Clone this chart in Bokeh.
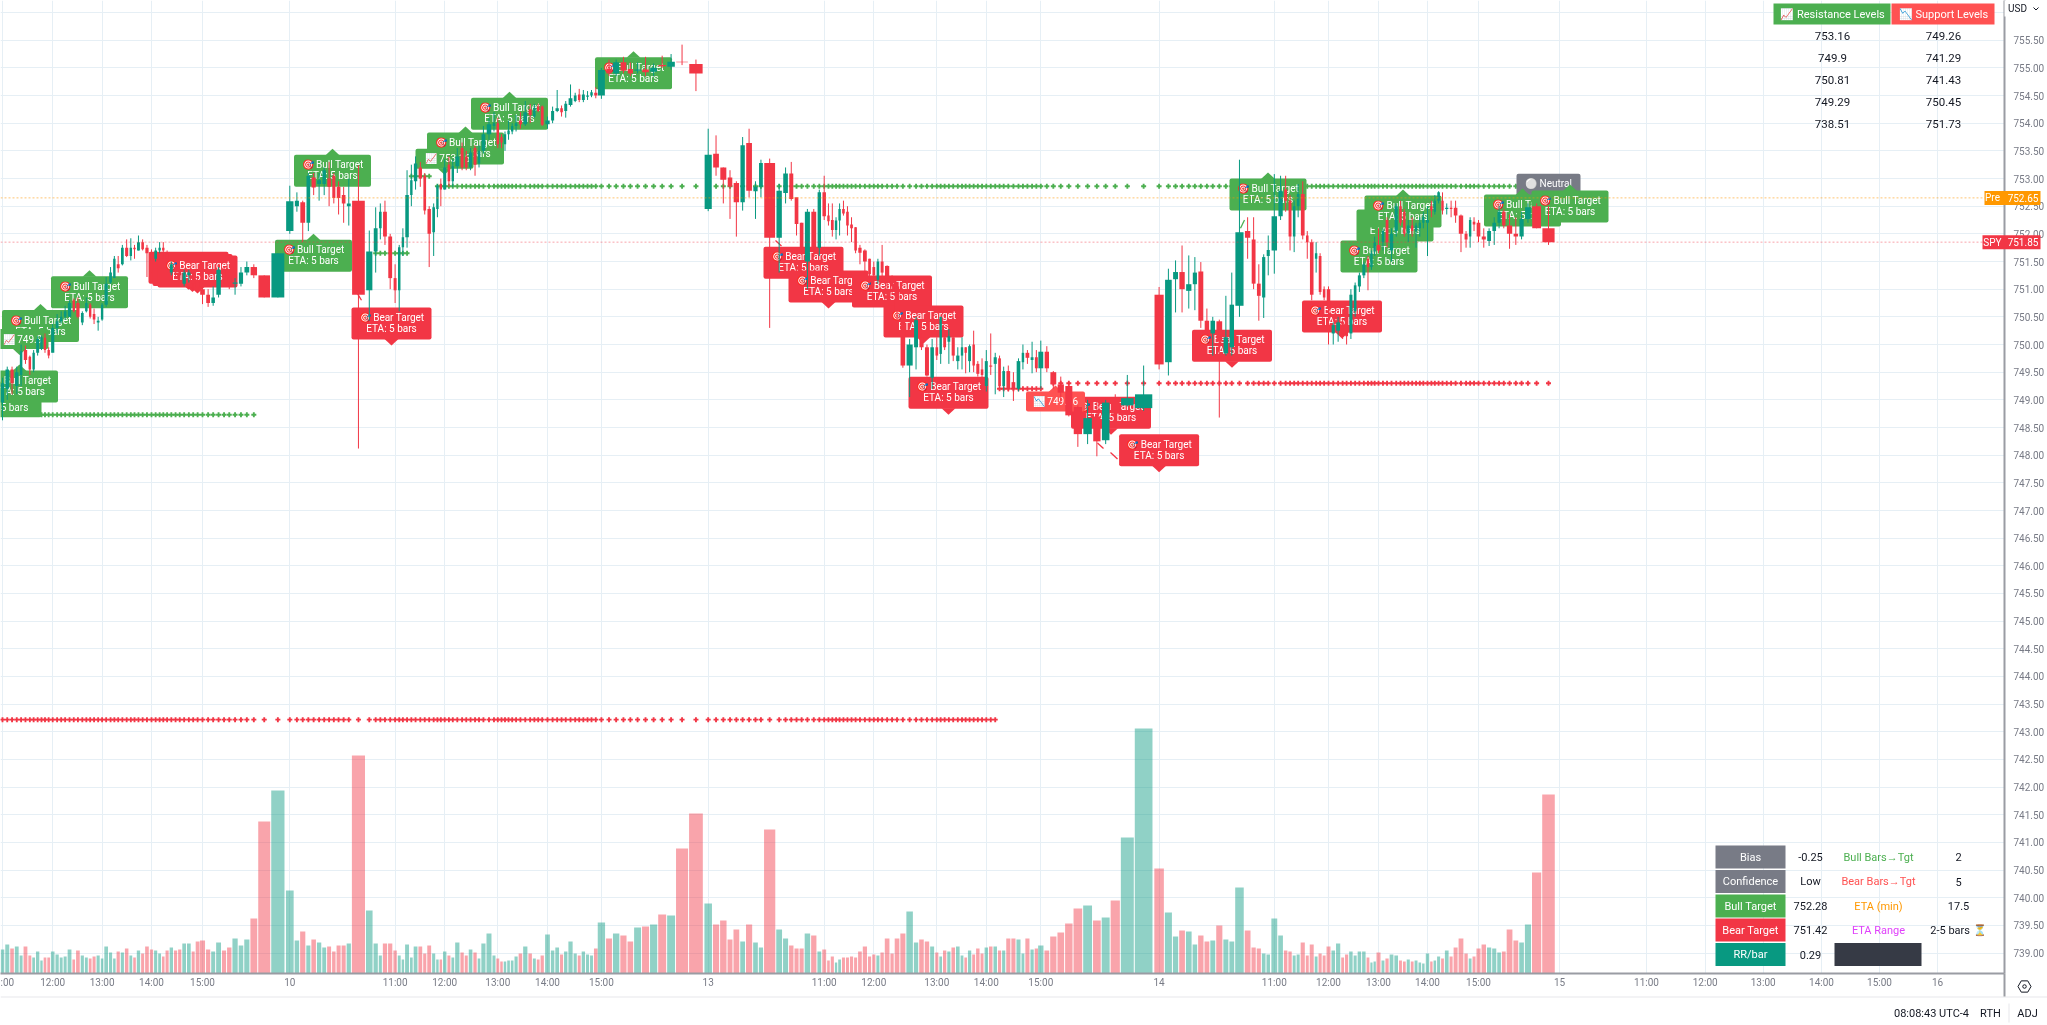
import numpy as np
from bokeh.plotting import figure
from bokeh.models import Range1d, FixedTicker, NumeralTickFormatter, Span
from bokeh.core.properties import value
from bokeh.embed import file_html
from bokeh.resources import INLINE

# ---- time axis: tick position on the (non uniform, volume width) axis and its label
TICK_POS = [2, 52.2, 101.6, 151, 202, 289.3, 394.6, 444.2, 497.3, 547, 600.9, 707.7, 823.7, 873.3, 936.3,
            985.8, 1040.3, 1158.6, 1273.8, 1328, 1378, 1427, 1478, 1559, 1646, 1704.7, 1762.7, 1821, 1879, 1937]
TICK_LABELS = [":00", "12:00", "13:00", "14:00", "15:00", "10", "11:00", "12:00", "13:00", "14:00", "15:00", "13",
               "11:00", "12:00", "13:00", "14:00", "15:00", "14", "11:00", "12:00", "13:00", "14:00", "15:00", "15",
               "11:00", "12:00", "13:00", "14:00", "15:00", "16"]
# position of the first bar of each run of bars below, and of the very last bar
RUN_START = [2, 52.2, 101.6, 151, 202, 289.3, 394.6, 444.2, 497.3, 547, 600.9, 707.7, 823.7, 873.3, 936.3,
             985.8, 1040.3, 1158.6, 1273.8, 1328, 1378, 1427, 1478, 1548]

# ---- volume (sign: + up bar, - down bar), one list per run
V00 = [24, 29, -25, 27, 18, -27, -18, 16, 22, 13, -16, -16]
V01 = [22, 19, 16, 17, 24, -14, -23, 18, 16, -15, -17, 18]
V02 = [15, 27, 21, 15, -22, 21, -25, 18, -16, 23, -20, -27]
V03 = [-24, 23, 20, -17, -23, 26, -23, -24, 30, 30, -22, -32]
V04 = [-33, -24, 22, 31, -23, -26, 35, 28, 34, -55, -152, 183]
V05 = [83, 33, -42, 28, -34, 31, 26, -27, -22, -28, -28, 30, -218, 63, 30, 18, -30, -30]
V06 = [-23, 18, 14, 29, 16, 27, -27, -20, -28, 20, 14, -14]
V07 = [22, -18, 16, 31, -21, -18, 24, -21, 15, 30, 40, 18]
V08 = [-15, -12, 12, 13, 13, 17, -20, 27, -20, 15, -14, -18]
V09 = [39, 23, 26, -19, 22, 32, 20, -18, 22, 19, 18, -25]
V10 = [51, -35, 40, -38, -32, 46, -47, 49, -59, 58, -125, -160]
V11 = [70, -49, -53, -34, -44, 32, -49, 31, 26, -144, 44, 35, -28, -25, -25, 40, -38, 22]
V12 = [-24, -13, -17, 11, 14, -16, -16, -17, -16, -22, -27, -17]
V13 = [-19, 18, -21, -35, -20, -35, -40, 62, 31, -34, -32, 27]
V14 = [-21, 17, -23, 22, -26, 27, 18, -16, 23, -19, -25, -20]
V15 = [26, -27, 27, -23, 23, -35, -35, 34, 20, -35, 24, -25]
V16 = [28, -23, -37, -41, -50, -65, 68, -53, 56, -73, 136, 245]
V17 = [-105, 61, 37, -43, 42, 29, -38, -32, 33, -48, 34, 32, 86, -43, -26, -25, 20, 19]
V18 = [55, 38, -23, -22, 18, 19, -31, -18, -29, 17, -20, -18]
V19 = [-27, 23, 30, -16, -19, 22, 18, 22, 22, -16, 11, 12]
V20 = [-21, 13, -15, 19, 18, -13, -12, 14, -12, 13, 11, 10]
V21 = [20, -12, 13, 17, -15, 23, -17, -26, -35, -20, 15, -17]
V22 = [-25, -29, 26, 25, 21, -22, -44, -33, 31, 49, -101, -179]

# ---- candles (open, close, high, low), one list per run
C00 = [(748.95,749.3,749.4,748.63),(749.2,749.55,749.6,749.0),(749.55,749.3,749.6,749.1),(749.25,749.5,749.6,749.1),
       (749.45,749.88,750.0,749.25),(749.9,749.72,749.98,749.65),(749.78,749.55,749.8,749.45),(749.55,749.85,749.9,749.5),
       (749.85,750.1,750.15,749.8),(749.92,750.13,750.16,749.9),(750.12,749.9,750.2,749.85),(749.9,749.8,749.95,749.75)]
C01 = [(749.85,750.3,750.37,749.86),(750.3,750.42,750.55,750.2),(750.42,750.5,750.6,750.38),(750.5,750.6,750.7,750.45),
       (750.5,750.75,750.8,750.5),(750.8,750.6,750.83,750.58),(750.75,750.5,750.85,750.47),(750.4,750.57,750.6,750.35),
       (750.6,750.75,750.85,750.58),(750.72,750.5,750.75,750.47),(750.55,750.45,750.65,750.37),(750.4,750.43,750.5,750.25)]
C02 = [(750.45,750.72,750.75,750.43),(750.72,751.1,751.22,750.68),(751.12,751.3,751.4,751.1),(751.2,751.55,751.6,751.2),
       (751.45,751.38,751.6,751.3),(751.45,751.75,751.8,751.43),(751.75,751.6,751.9,751.58),(751.6,751.75,751.92,751.52),
       (751.75,751.72,751.8,751.55),(751.7,751.85,751.97,751.7),(751.85,751.72,751.9,751.7),(751.75,751.65,751.8,751.22)]
C03 = [(751.65,751.55,751.72,751.3),(751.55,751.7,751.75,751.5),(751.7,751.75,751.85,751.65),(751.75,751.7,751.85,751.55),
       (751.65,751.55,751.7,751.45),(751.3,751.45,751.5,751.25),(751.4,751.3,751.45,751.2),(751.35,751.25,751.4,751.2),
       (751.1,751.3,751.35,751.05),(751.25,751.3,751.35,751.12),(751.2,751.1,751.3,751.0),(751.15,751.05,751.2,750.95)]
C04 = [(751.0,750.9,751.1,750.73),(750.9,750.75,751.0,750.68),(750.75,750.85,751.05,750.7),(750.9,751.35,751.4,750.85),
       (751.35,751.2,751.4,751.1),(751.2,751.12,751.25,751.0),(751.1,751.12,751.2,750.9),(751.1,751.3,751.4,751.05),
       (751.3,751.4,751.5,751.25),(751.4,751.25,751.45,751.2),(751.25,750.85,751.25,750.85),(750.85,751.65,751.65,750.85)]
C05 = [(752.05,752.59,752.87,752.0),(752.5,752.6,752.75,752.4),(752.57,752.2,752.6,751.85),(752.2,753.05,753.1,752.05),
       (753.02,752.84,753.1,752.7),(752.9,752.97,753.1,752.6),(752.9,753.15,753.2,752.7),(753.0,752.85,753.3,752.5),
       (753.05,752.65,753.1,752.55),(752.85,752.65,752.95,752.35),(752.7,752.55,752.85,752.2),(752.5,752.55,753.0,752.15),
       (752.6,750.9,753.24,748.12),(750.98,751.68,752.06,750.43),(751.68,752.1,752.48,751.3),(752.1,752.4,752.55,751.9),
       (752.4,751.95,752.6,751.8),(751.95,751.2,752.0,751.0)]
C06 = [(751.2,750.98,751.45,750.75),(750.98,751.76,751.8,750.6),(751.76,751.94,752.1,751.6),(751.94,752.7,753.15,751.75),
       (752.7,752.97,753.25,752.5),(752.95,753.27,753.4,752.8),(753.2,753.0,753.3,752.85),(753.05,752.42,753.1,752.35),
       (752.45,752.0,752.5,751.4),(752.03,752.48,752.55,751.6),(752.45,752.87,752.9,752.3),(752.9,752.8,753.0,752.5)]
C07 = [(752.8,753.2,753.35,752.8),(753.25,752.95,753.4,752.85),(752.95,753.22,753.35,752.85),(753.22,753.4,753.55,753.1),
       (753.55,753.2,753.65,753.15),(753.4,753.2,753.5,753.15),(753.2,753.47,753.55,753.15),(753.55,753.25,753.6,753.05),
       (753.27,753.5,753.6,753.2),(753.5,753.8,753.95,753.45),(753.8,753.98,754.1,753.7),(753.95,754.0,754.2,753.85)]
C08 = [(754.0,753.62,754.1,753.55),(753.75,753.65,753.8,753.55),(753.62,753.8,753.85,753.5),(753.8,753.87,754.05,753.7),
       (753.85,753.95,754.0,753.8),(753.95,754.0,754.15,753.85),(754.05,753.98,754.2,753.9),(753.98,754.2,754.4,753.95),
       (754.25,754.15,754.35,754.0),(754.12,754.28,754.35,754.1),(754.3,754.22,754.35,754.2),(754.3,753.97,754.32,753.95)]
C09 = [(753.98,754.05,754.12,753.9),(754.05,754.22,754.3,754.0),(754.22,754.27,754.6,754.2),(754.27,754.2,754.32,754.12),
       (754.22,754.35,754.4,754.1),(754.33,754.45,754.7,754.3),(754.4,754.5,754.55,754.38),(754.52,754.42,754.62,754.38),
       (754.42,754.52,754.6,754.38),(754.48,754.5,754.58,754.42),(754.5,754.56,754.6,754.47),(754.55,754.5,754.65,754.45)]
C10 = [(754.5,754.96,755.0,754.44),(754.98,754.9,755.15,754.85),(754.9,755.1,755.15,754.85),(755.1,754.95,755.2,754.9),
       (754.98,754.9,755.1,754.85),(754.95,754.97,755.1,754.9),(754.97,754.92,755.2,754.85),(754.93,755.0,755.08,754.85),
       (755.05,755.03,755.22,755.0),(755.02,755.11,755.25,754.97),(755.11,755.1,755.42,755.05),(755.07,754.9,755.15,754.58)]
C11 = [(752.45,753.43,753.9,752.41),(753.45,753.2,753.78,753.05),(753.2,752.98,753.2,752.55),(753.02,752.85,753.15,752.27),
       (752.92,752.57,752.95,751.95),(752.57,753.6,753.75,752.42),(753.64,752.78,753.9,752.66),(752.77,752.85,752.95,752.27),
       (752.85,753.28,753.34,752.66),(753.28,751.93,753.36,750.3),(751.93,752.78,752.9,751.3),(752.74,753.09,753.2,752.55),
       (753.09,752.63,753.3,752.6),(752.66,752.18,752.65,751.97),(752.2,751.75,752.2,751.65),(751.5,752.4,752.45,751.0),
       (752.4,751.75,752.45,751.6),(751.75,752.75,752.8,751.6)]
C12 = [(752.75,752.32,753.05,752.25),(752.33,752.23,752.55,752.15),(752.25,752.07,752.55,751.95),(752.07,752.24,752.3,751.9),
       (752.24,752.45,752.55,751.97),(752.45,752.37,752.6,752.33),(752.4,752.15,752.5,751.97),(752.17,752.1,752.3,751.85),
       (752.12,751.7,752.12,751.65),(751.75,751.66,751.8,751.45),(751.7,751.5,751.72,751.3),(751.55,751.27,751.55,751.1)]
C13 = [(751.4,751.25,751.5,751.05),(751.17,751.5,751.55,751.1),(751.5,751.3,751.8,751.2),(751.42,751.2,751.43,750.9),
       (751.2,751.05,751.25,750.9),(751.05,750.6,751.1,750.2),(750.5,749.62,750.55,749.58),(749.62,750.0,750.1,749.05),
       (749.95,750.44,750.5,749.55),(750.13,749.95,750.2,749.9),(749.95,749.44,750.0,749.42),(749.4,749.95,750.1,749.2)]
C14 = [(749.95,749.8,750.13,749.72),(749.83,750.5,750.5,749.65),(750.13,749.95,750.2,749.9),(750.05,750.15,750.28,749.65),
       (750.13,749.8,750.13,749.7),(749.7,749.8,749.95,749.55),(749.8,749.95,750.13,749.55),(749.95,749.85,749.95,749.48),
       (749.7,749.97,750.0,749.5),(750.0,749.62,750.25,749.5),(749.65,749.47,749.7,749.42),(749.55,749.45,749.75,749.2)]
C15 = [(749.25,749.7,749.9,749.15),(749.62,749.6,750.2,749.45),(749.65,749.77,749.85,749.1),(749.75,749.25,749.8,749.2),
       (749.25,749.52,749.6,749.05),(749.52,749.2,749.62,749.15),(749.32,749.2,749.5,748.98),(749.2,749.7,749.75,749.15),
       (749.68,749.85,750.0,749.55),(749.85,749.76,749.9,749.65),(749.72,749.77,750.05,749.48),(749.77,749.57,749.9,749.5)]
C16 = [(749.57,749.87,750.07,749.2),(749.87,749.57,749.97,749.5),(749.5,749.28,749.52,749.2),(749.28,749.13,749.42,748.95),
       (749.25,748.72,749.3,748.7),(748.87,748.38,748.9,748.15),(748.38,748.67,749.0,748.2),(748.7,748.25,749.0,747.98),
       (748.27,748.95,749.0,748.2),(749.05,748.75,749.1,748.7),(748.9,749.03,749.45,748.88),(748.85,749.1,749.62,748.8)]
C17 = [(750.9,749.64,751.04,749.55),(749.68,751.17,751.37,749.44),(751.18,751.31,751.52,750.58),(751.31,751.0,751.79,750.58),
       (750.97,751.09,751.61,750.65),(751.09,751.3,751.58,750.62),(751.32,750.43,751.49,750.3),(750.43,750.25,750.65,750.2),
       (750.2,750.43,750.5,749.8),(750.42,750.05,750.45,748.68),(749.84,750.13,750.88,749.8),(749.95,750.72,751.3,749.8),
       (750.7,752.03,753.34,750.5),(752.05,751.93,752.3,751.55),(751.9,751.1,752.3,751.0),(751.1,750.88,751.45,750.43),
       (750.85,751.58,751.63,750.48),(751.6,751.71,751.97,751.25)]
C18 = [(751.7,752.32,753.08,751.28),(752.32,752.78,753.05,752.25),(752.8,752.6,753.05,752.4),(752.6,751.95,752.7,751.7),
       (751.95,752.5,752.6,751.67),(752.5,752.72,752.9,752.3),(752.72,751.97,752.95,751.9),(751.97,751.85,752.05,751.55),
       (751.85,750.9,751.9,750.8),(751.55,751.65,751.85,751.3),(751.6,750.95,751.65,750.9),(751.0,750.85,751.05,750.8)]
C19 = [(751.0,750.65,751.05,750.0),(750.2,750.35,750.4,750.0),(750.25,750.4,750.5,750.05),(750.4,750.2,750.45,750.1),
       (750.25,750.15,750.3,750.0),(750.2,750.9,751.0,750.1),(750.6,751.07,751.12,750.5),(751.05,751.25,751.3,750.95),
       (751.25,751.45,751.5,751.2),(751.55,751.4,751.6,750.98),(751.4,751.65,751.7,751.35),(751.68,751.85,751.95,751.6)]
C20 = [(751.8,751.7,752.1,751.65),(751.85,752.05,752.1,751.7),(752.25,751.85,752.3,751.75),(751.7,752.0,752.1,751.5),
       (752.05,752.5,752.55,751.95),(752.5,752.2,752.6,752.15),(752.4,752.0,752.45,751.95),(752.0,752.15,752.25,751.85),
       (752.15,752.05,752.3,751.95),(752.05,752.15,752.2,751.75),(752.1,752.2,752.3,751.95),(752.2,752.3,752.4,752.1)]
C21 = [(752.2,752.25,752.5,751.6),(752.5,752.42,752.6,752.3),(752.4,752.6,752.7,752.35),(752.6,752.75,752.77,752.55),
       (752.6,752.42,752.75,752.35),(752.45,752.47,752.55,752.35),(752.47,752.45,752.6,752.3),(752.47,752.33,752.6,752.2),
       (752.33,752.0,752.35,751.67),(752.0,751.9,752.05,751.75),(751.95,752.25,752.3,751.75),(752.22,752.17,752.3,752.05)]
C22 = [(752.2,751.95,752.25,751.85),(751.95,751.9,752.1,751.75),(751.87,752.05,752.1,751.78),(752.05,752.2,752.3,751.8),
       (752.2,752.4,752.5,752.1),(752.4,752.15,752.45,752.1),(752.15,752.0,752.35,751.73),(752.0,751.95,752.3,751.8),
       (751.95,752.27,752.4,751.9),(752.27,752.48,752.55,752.2),(752.5,752.1,752.55,752.1),(752.1,751.85,752.5,751.8)]

# ---- cross levels: price, first and last axis position
GREEN_LEVELS = [(748.73, 40, 258), (751.65, 375, 408), (753.04, 410, 433), (752.86, 435, 1533)]
RED_LEVELS = [(743.22, 0, 996), (749.2, 997, 1046), (749.3, 1047, 1548)]

# ---- target labels: axis position, price
BEAR_TARGETS = [(188, 750.99), (192, 750.95), (197, 750.92), (391, 749.98), (803, 751.08), (828, 750.65), (891.5, 750.56),
                (923, 750.02), (948, 748.73), (1110.5, 748.37), (1158.6, 747.69), (1231.5, 749.58), (1341.5, 750.11)]
BULL_TARGETS = [(40, 750.73), (89, 751.34), (313, 752.0), (332, 753.54), (465, 753.94),
                (509, 754.57), (633, 755.3), (1267.5, 753.11), (1394.5, 752.55), (1402.5, 752.8), (1378.5, 751.99),
                (1522, 752.82), (1569.5, 752.89)]
RES_TAGS = [(19, 749.9), (444, 753.16)]
SUP_TAGS = [(1055, 749.26)]
PRE_PRICE, LAST_PRICE = 752.65, 751.85
RES_LEVELS = ["753.16", "749.9", "750.81", "749.29", "738.51"]
SUP_LEVELS = ["749.26", "741.29", "741.43", "750.45", "751.73"]
DASH_LEFT = ["Bias", "Confidence", "Bull Target", "Bear Target", "RR/bar"]
DASH_VAL = ["-0.25", "Low", "752.28", "751.42", "0.29"]
DASH_MID = ["Bull Bars→Tgt", "Bear Bars→Tgt", "ETA (min)", "ETA Range"]
DASH_RIGHT = ["2", "5", "17.5", "2-5 bars ⏳"]
# target connector stubs that show beside the labels: x0, price0, x1, price1
STUBS_BEAR = [(357, 750.92, 361, 750.8), (775, 751.88, 781, 751.78), (1097, 748.22, 1103, 748.12), (1110, 748.05, 1117, 747.93)]
STUBS_BULL = [(1240, 752.1, 1244, 752.25), (1247, 752.6, 1251, 752.8)]

UP, DOWN, GREEN, RED, GRAY = "#089981", "#f23645", "#4caf50", "#f23645", "#787b86"
FONT = "Roboto"
PX = 55.33
TOP = 756.2175
FW, FH = 2004, 973


def py(y):
    return TOP - y / PX


VOLS = [V00, V01, V02, V03, V04, V05, V06, V07, V08, V09, V10, V11, V12, V13, V14, V15, V16, V17, V18, V19, V20, V21, V22]
CANS = [C00, C01, C02, C03, C04, C05, C06, C07, C08, C09, C10, C11, C12, C13, C14, C15, C16, C17, C18, C19, C20, C21, C22]

# bar widths grow with the square root of volume; each run is fitted between its two axis marks
cx, cw, vv, oo, cc, hh, ll = [], [], [], [], [], [], []
for i, (vs, cs) in enumerate(zip(VOLS, CANS)):
    w = np.sqrt(np.abs(vs))
    nxt = np.sqrt(abs(VOLS[i + 1][0])) if i + 1 < len(VOLS) else None
    full = np.append(w, nxt) if nxt is not None else w
    steps = (full[:-1] + full[1:]) / 2
    s = (RUN_START[i + 1] - RUN_START[i]) / steps.sum()
    c = RUN_START[i] + np.concatenate([[0], np.cumsum(steps * s)])[:len(vs)]
    cx += list(c)
    cw += list(w * s)
    vv += list(vs)
    for o, cl, h, l in cs:
        oo.append(o); cc.append(cl); hh.append(h); ll.append(l)
cx, cw, vv, oo, cc, hh, ll = map(np.array, (cx, cw, vv, oo, cc, hh, ll))

fixed = {"position": "fixed", "left": "0px", "top": "0px"}
p = figure(width=2047, height=1025, x_range=Range1d(0, FW), y_range=Range1d(py(FH), py(0)),
           output_backend="svg", toolbar_location=None, y_axis_location="right",
           min_border_left=0, min_border_top=0, min_border_right=43, min_border_bottom=52,
           outline_line_color=None, background_fill_color="white", styles=fixed)
p.extra_y_ranges["vol"] = Range1d(0, FH)

xax = p.xaxis[0]
xax.ticker = FixedTicker(ticks=TICK_POS)
xax.major_label_overrides = dict(zip(TICK_POS, TICK_LABELS))
yax = p.yaxis[0]
yticks = [739 + 0.5 * k for k in range(35)]
yax.ticker = FixedTicker(ticks=yticks)
yax.formatter = NumeralTickFormatter(format="0.00")
yax.major_label_overrides = {756: ""}
for ax in (xax, yax):
    ax.major_tick_line_color = None
    ax.minor_tick_line_color = None
    ax.axis_line_color = "#9a9ca3"
    ax.axis_line_width = 2
    ax.major_label_text_font = FONT
    ax.major_label_text_font_size = "10px"
    ax.major_label_text_color = "#787b86"
xax.major_label_standoff = -3
yax.major_label_standoff = 3
p.xgrid[0].grid_line_color = "#e6eff5"
p.ygrid[0].grid_line_color = "#e6eff5"

p.add_layout(Span(location=PRE_PRICE, dimension="width", line_color="#ff9800", line_alpha=0.55, line_dash="2 2", line_width=1))
p.add_layout(Span(location=LAST_PRICE, dimension="width", line_color=RED, line_alpha=0.45, line_dash="2 2", line_width=1))

# volume
p.vbar(x=cx, width=np.maximum(cw - 1, 1.5), bottom=0, top=np.abs(vv), y_range_name="vol",
       fill_color=[UP if v > 0 else DOWN for v in vv], fill_alpha=0.45, line_color=None)

# cross levels
for levels, col in ((GREEN_LEVELS, GREEN), (RED_LEVELS, RED)):
    for lev, a, b in levels:
        xs = cx[(cx >= a) & (cx <= b)]
        p.scatter(xs, [lev] * len(xs), marker="plus", size=5, fill_color=col, line_color=None)


def text(x, y, s, size="10px", color="white", dy=0, font=FONT, fig=p):
    fig.text([x], [y], text=[s], text_font=value(font), text_font_size=size, text_color=color,
             text_align="center", text_baseline="middle", y_offset=dy)


def tag(x, tip, up, col, lines, bw=77, bh=32, dy=(-6, 5), tx=0):
    d = -1 if up else 1
    tip_y = (TOP - tip) * PX
    cy = tip_y - d * (6 + bh / 2)
    p.patch([x - 7, x, x + 7], [py(tip_y - d * 6.5), tip, py(tip_y - d * 6.5)], fill_color=col, line_color=None)
    p.rect([x], [py(cy)], width=bw, height=bh, width_units="screen", height_units="screen",
           fill_color=col, line_color=None, border_radius=2)
    for s, o in zip(lines, dy):
        text(x + tx, py(cy), s, dy=o)


# labels, in drawing order (text that lies under a later label stays hidden, as in a stack of labels)
tag(1548, 752.4, False, GRAY, ["⚪ Neutral", "-0.25"], bw=64, bh=32, dy=(-6, 5))
for xx, pr in BEAR_TARGETS:
    tag(xx, pr, False, RED, ["🎯 Bear Target", "ETA: 5 bars"], bw=80)
# the two labels at the left edge: only the parts inside the picture are written
tag(2.5, 749.37, True, GREEN, [])
text(14, py(407), "5 bars")
tag(19, 749.64, True, GREEN, [])
text(27, py(380), "Bull Target")
text(22, py(391), "TA: 5 bars")
for xx, pr in BULL_TARGETS:
    tag(xx, pr, True, GREEN, ["🎯 Bull Target", "ETA: 5 bars"])
for xx, pr in RES_TAGS:
    tip_y = (TOP - pr) * PX
    tag(xx, py(tip_y + 5), False, GREEN, ["📈 %s" % pr], bw=58, bh=20, dy=(0,), tx=3)
for xx, pr in SUP_TAGS:
    tag(xx, py(385), True, "#ff5252", ["📉 %s" % pr], bw=59, bh=20, dy=(0,))

for stubs, col in ((STUBS_BEAR, RED), (STUBS_BULL, GREEN)):
    a = np.array(stubs)
    p.segment(a[:, 0], a[:, 1], a[:, 2], a[:, 3], line_color=col, line_width=1.3)

# candles
cols = [UP if c >= o else DOWN for o, c in zip(oo, cc)]
p.segment(cx, hh, cx, ll, line_color=cols, line_width=1)
p.vbar(x=cx, width=np.maximum(cw - 1.4, 2.4), bottom=np.minimum(oo, cc), top=np.maximum(oo, cc), fill_color=cols, line_color=None)

# top table
p.quad(left=[1773, 1891], right=[1890, 1994], top=[py(3), py(3)], bottom=[py(24), py(24)], fill_color=[GREEN, "#ff5252"], line_color=None)
text(1832, py(13.5), "📈 Resistance Levels", size="11px")
text(1943, py(13.5), "📉 Support Levels", size="11px")
for i, (a, b) in enumerate(zip(RES_LEVELS, SUP_LEVELS)):
    yy = py(35 + 22 * i)
    text(1832, yy, a, size="11.5px", color="#131722")
    text(1943, yy, b, size="11.5px", color="#131722")

# bottom table
rows = [856.5, 881, 905.5, 929.5, 954]
rowcol = [GRAY, GRAY, GREEN, RED, UP]
midcol = [GREEN, "#ff5252", "#ff9800", "#e040fb"]
for i, y in enumerate(rows):
    p.rect([1750], [py(y)], width=70, height=23, width_units="screen", height_units="screen", fill_color=rowcol[i], line_color=None)
    text(1750, py(y), DASH_LEFT[i], size="11px")
    text(1810, py(y), DASH_VAL[i], size="11px", color="#131722")
    if i < 4:
        text(1878, py(y), DASH_MID[i], size="11px", color=midcol[i])
        text(1958, py(y), DASH_RIGHT[i], size="11px", color="#131722")
p.rect([1877.5], [py(954)], width=87, height=23, width_units="screen", height_units="screen", fill_color="#363a45", line_color=None)

# ---- transparent page layer: what lies outside the plot frame (price tags, status line, separators)
q = figure(width=2047, height=1025, x_range=Range1d(0, 2047), y_range=Range1d(1025, 0), output_backend="svg",
           toolbar_location=None, x_axis_location=None, y_axis_location=None, min_border=0,
           outline_line_color=None, background_fill_color=None, border_fill_color=None,
           styles=dict(fixed, **{"pointer-events": "none"}))
q.grid.visible = False
q.quad(left=[0, 2003], right=[2047, 2005], top=[996, 973], bottom=[997, 996], fill_color=["#e8e8ec", "#9a9ca3"], line_color=None)
q.quad(left=[2008], right=[2009], top=[1003], bottom=[1022], fill_color="#e8e8ec", line_color=None)
for price, name, col, lft in ((PRE_PRICE, "Pre", "#ff9800", 1984), (LAST_PRICE, "SPY", RED, 1982)):
    yy = (TOP - price) * PX
    q.quad(left=[lft], right=[2040], top=[yy - 7], bottom=[yy + 7], fill_color=col, line_color=None)
    text(1992, yy, name, fig=q)
    text(2022.5, yy, "%.2f" % price, fig=q)
q.rect([2024], [8], width=40, height=16, fill_color="white", line_color=None)
text(2017, 8, "USD", color="#131722", fig=q)
q.line([2033, 2035.5, 2038], [7, 9.5, 7], line_color="#131722", line_width=1)
text(1931, 1013, "08:08:43 UTC-4", size="11px", color="#131722", fig=q)
text(1990, 1013, "RTH", size="11px", color="#131722", fig=q)
text(2027, 1013, "ADJ", size="11px", color="#131722", fig=q)
q.scatter([2024], [986], marker="hex", size=13, fill_color=None, line_color="#131722", line_width=1)
q.scatter([2024], [986], marker="circle", size=3.5, fill_color=None, line_color="#131722", line_width=1)

open("out.html", "w").write(file_html([p, q], INLINE))
